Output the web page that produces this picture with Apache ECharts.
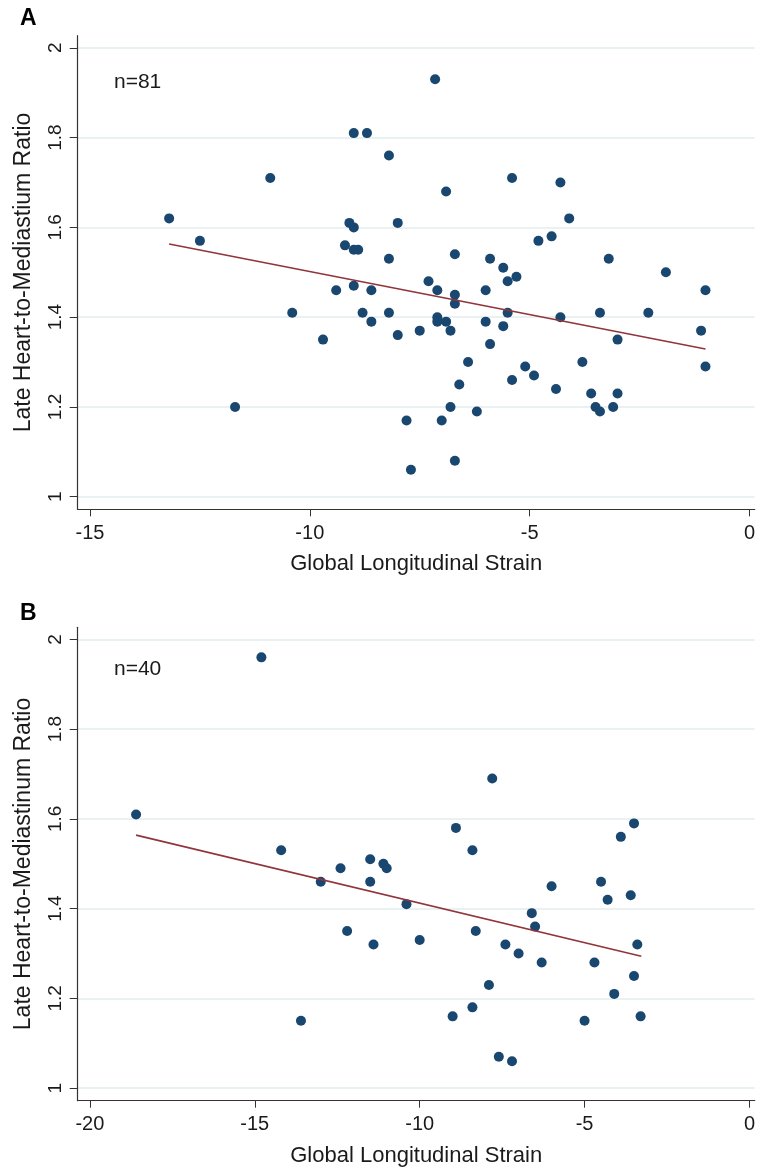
<!DOCTYPE html>
<html>
<head>
<meta charset="utf-8">
<script src="https://cdn.jsdelivr.net/npm/echarts@6/dist/echarts.min.js"></script>
<style>
html,body{margin:0;padding:0;background:#fff;}
#chart{width:758px;height:1170px;}
</style>
</head>
<body>
<div id="chart"></div>
<script>
// Panel A: Global Longitudinal Strain vs Late H/M ratio (n=81)
const strainA = [-13.2,-12.5,-11.7,-10.9,-10.4,-9.7,-9.4,-9.2,-9.1,-9.0,-9.0,-8.7,-9.0,-8.9,-9.0,-8.8,-8.6,-8.6,
  -7.15,-8.2,-5.4,-4.3,-6.9,-8.0,-4.1,-4.5,-4.8,-8.2,-6.7,-5.9,-3.2,-1.9,-5.6,-7.3,-5.5,-5.3,-7.1,-6.0,-1.0,
  -6.7,-6.7,-8.2,-8.0,-7.5,-7.1,-7.1,-6.9,-6.8,-6.0,-5.5,-5.6,-5.9,-4.3,-3.4,-2.3,-1.1,-3.0,-1.0,-6.4,-5.1,
  -4.9,-5.4,-3.8,-6.6,-4.4,-3.6,-3.0,-6.8,-3.5,-3.4,-3.1,-6.2,-7.8,-7.0,-6.7,-7.7];
const hmrA = [1.62,1.57,1.20,1.71,1.41,1.35,1.46,1.56,1.61,1.60,1.81,1.81,1.55,1.55,1.47,1.41,1.46,1.39,
  1.93,1.76,1.71,1.70,1.68,1.61,1.62,1.58,1.57,1.53,1.54,1.53,1.53,1.50,1.51,1.48,1.48,1.49,1.46,1.46,1.46,
  1.45,1.43,1.41,1.36,1.37,1.40,1.39,1.39,1.37,1.39,1.41,1.38,1.34,1.40,1.41,1.41,1.37,1.35,1.29,1.30,1.29,
  1.27,1.26,1.30,1.25,1.24,1.23,1.23,1.20,1.20,1.19,1.20,1.19,1.17,1.17,1.08,1.06];
const fitA = [[-13.2,1.563],[-1.0,1.329]];

// Panel B (n=40)
const strainB = [-18.6,-14.8,-14.2,-13.0,-12.4,-11.5,-11.5,-11.1,-11.0,-8.9,-8.4,-7.8,-6.0,-4.5,-3.9,-3.5,
  -12.2,-11.4,-13.6,-4.3,-3.6,-10.4,-6.6,-6.5,-8.3,-10.0,-7.4,-7.0,-6.3,-4.7,-3.4,-3.5,-4.1,-7.9,-8.4,-9.0,
  -5.0,-3.3,-7.6,-7.2];
const hmrB = [1.61,1.96,1.53,1.46,1.49,1.51,1.46,1.50,1.49,1.58,1.53,1.69,1.45,1.46,1.56,1.59,
  1.35,1.32,1.15,1.42,1.43,1.41,1.39,1.36,1.35,1.33,1.32,1.30,1.28,1.28,1.32,1.25,1.21,1.23,1.18,1.16,
  1.15,1.16,1.07,1.06];
const fitB = [[-18.6,1.564],[-3.28,1.294]];

const yTicks = [1, 1.2, 1.4, 1.6, 1.8, 2];
const xTicksA = [-15, -10, -5, 0];
const xTicksB = [-20, -15, -10, -5, 0];
const panelLabels = ['A', 'B'];
const nLabels = ['n=81', 'n=40'];
const xTitle = 'Global Longitudinal Strain';
const yTitle = 'Late Heart-to-Mediastium Ratio';
const yTitleB = 'Late Heart-to-Mediastinum Ratio';

const FONT = 'Arial, "Liberation Sans", Helvetica, sans-serif';
const NAVY = '#1a476f';
const MAROON = '#90353b';
const AXIS = '#333333';
const GRIDC = '#e3ecef';

function zip(xs, ys) { return xs.map((x, i) => [x, ys[i]]); }

function xAxis(gridIndex, min, max, ticks) {
  return {
    type: 'value', gridIndex, min, max,
    name: xTitle, nameLocation: 'middle', nameGap: 44,
    nameTextStyle: { fontFamily: FONT, fontSize: 22, color: '#1a1a1a' },
    axisLine: { show: true, onZero: false, lineStyle: { color: AXIS, width: 1.2 } },
    axisTick: { show: true, length: 7, customValues: ticks, lineStyle: { color: AXIS } },
    axisLabel: { customValues: ticks, margin: 14, fontFamily: FONT, fontSize: 20, color: '#1a1a1a',
      formatter: v => String(v) },
    splitLine: { show: false }
  };
}
function yAxis(gridIndex, name) {
  return {
    type: 'value', gridIndex, min: 0.972, max: 2.027,
    name, nameLocation: 'middle', nameGap: 43, nameRotate: 90,
    nameTextStyle: { fontFamily: FONT, fontSize: 23, color: '#1a1a1a' },
    axisLine: { show: true, onZero: false, lineStyle: { color: AXIS, width: 1.2 } },
    axisTick: { show: true, length: 8, customValues: yTicks, lineStyle: { color: AXIS } },
    axisLabel: { customValues: yTicks, rotate: 90, margin: 12, fontFamily: FONT, fontSize: 19, color: '#1a1a1a',
      formatter: v => String(Math.round(v * 10) / 10) },
    splitLine: { show: true, lineStyle: { color: GRIDC, width: 1.5 } }
  };
}

const option = {
  animation: false,
  backgroundColor: '#ffffff',
  title: [
    { text: panelLabels[0], left: 20, top: 7, padding: 0, textStyle: { fontFamily: FONT, fontSize: 23, fontWeight: 'bold', color: '#000' } },
    { text: panelLabels[1], left: 20, top: 602, padding: 0, textStyle: { fontFamily: FONT, fontSize: 23, fontWeight: 'bold', color: '#000' } },
    { text: nLabels[0], left: 114, top: 72, padding: 0, textStyle: { fontFamily: FONT, fontSize: 21, fontWeight: 'normal', color: '#1a1a1a' } },
    { text: nLabels[1], left: 114, top: 659, padding: 0, textStyle: { fontFamily: FONT, fontSize: 21, fontWeight: 'normal', color: '#1a1a1a' } }
  ],
  grid: [
    { left: 77.7, right: 0, top: 35.7, height: 473.6 },
    { left: 77.7, right: 0, top: 627.3, height: 473.4 }
  ],
  xAxis: [ xAxis(0, -15.28, 0.12, xTicksA), xAxis(1, -20.37, 0.16, xTicksB) ],
  yAxis: [ yAxis(0, yTitle), yAxis(1, yTitleB) ],
  series: [
    { type: 'scatter', xAxisIndex: 0, yAxisIndex: 0, data: zip(strainA, hmrA), symbol: 'circle', symbolSize: 10,
      itemStyle: { color: NAVY, opacity: 1 }, z: 3 },
    { type: 'line', xAxisIndex: 0, yAxisIndex: 0, data: fitA, symbol: 'none',
      lineStyle: { color: MAROON, width: 1.7 }, z: 4 },
    { type: 'scatter', xAxisIndex: 1, yAxisIndex: 1, data: zip(strainB, hmrB), symbol: 'circle', symbolSize: 10,
      itemStyle: { color: NAVY, opacity: 1 }, z: 3 },
    { type: 'line', xAxisIndex: 1, yAxisIndex: 1, data: fitB, symbol: 'none',
      lineStyle: { color: MAROON, width: 1.7 }, z: 4 }
  ]
};

const chart = echarts.init(document.getElementById('chart'), null, { renderer: 'canvas' });
chart.setOption(option);
</script>
</body>
</html>
